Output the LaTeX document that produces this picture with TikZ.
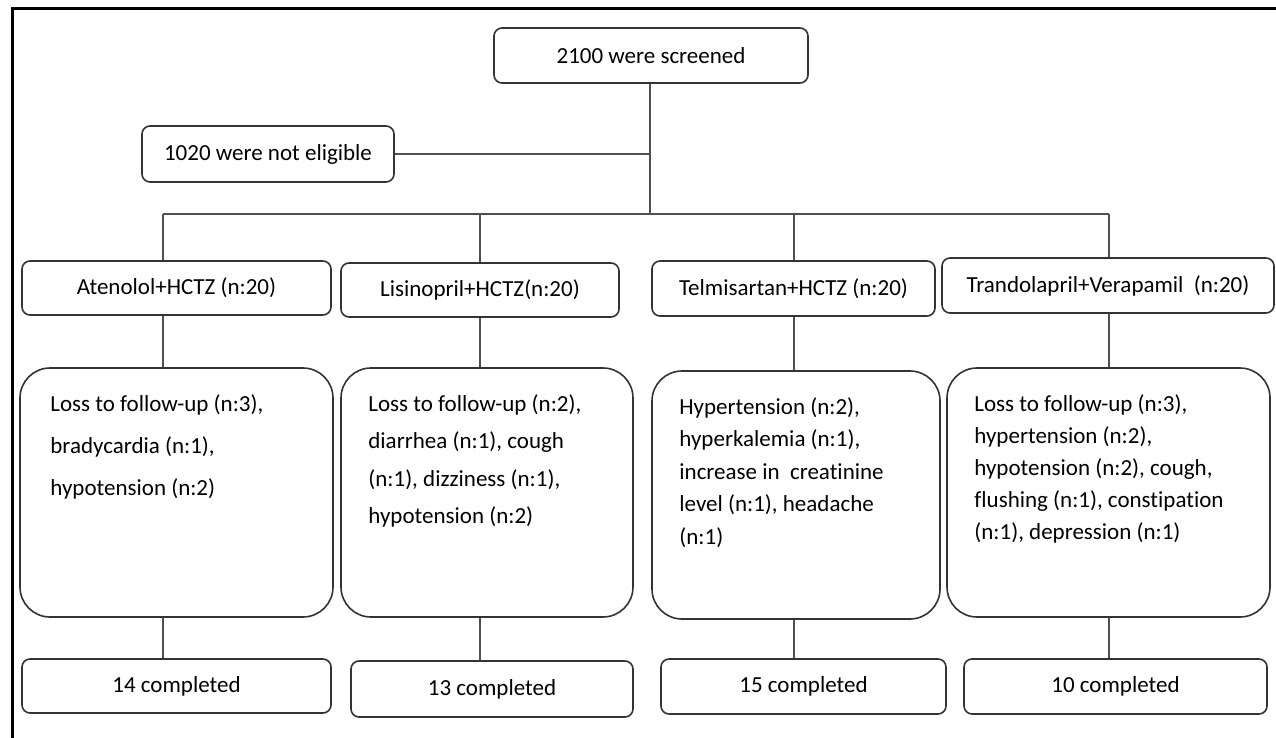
\documentclass[tikz,border=0pt]{standalone}
\usepackage{fontspec}
\setmainfont{Carlito}[Ligatures=NoCommon]
\usepackage{xcolor}
\definecolor{boxgray}{HTML}{333333}
\definecolor{linegray}{HTML}{505050}

\tikzset{
  box/.style={draw=boxgray, line width=1.6pt, rounded corners=8pt, inner sep=0pt,
    font=\fontsize{23}{28}\selectfont},
  bigbox/.style={draw=boxgray, line width=1.6pt, rounded corners=30pt, inner sep=0pt,
    minimum height=249pt},
  aetext/.style={anchor=north west, align=left, inner sep=0pt},
  link/.style={linegray, line width=1.4pt}
}

\begin{document}
\begin{tikzpicture}[x=1pt,y=-1pt]
\useasboundingbox (0,0) rectangle (1276,738);
%%%FRAME
\draw[line width=3pt] (12,738) -- (12,9) -- (1276,9);

%%%SCREENING
\node[box, minimum width=314pt, minimum height=55pt] (screen) at (651,55.5) {2100 were screened};
\node[box, minimum width=252pt, minimum height=56pt] (noelig) at (268,154) {1020 were not eligible};

%%%ARMS
\node[box, minimum width=309pt, minimum height=54pt] (atn) at (176.5,288) {Atenolol+HCTZ (n:20)};
\node[box, minimum width=278pt, minimum height=54pt] (lis) at (480,290) {Lisinopril+HCTZ(n:20)};
\node[box, minimum width=283pt, minimum height=55pt] (tel) at (793.5,288.5) {Telmisartan+HCTZ (n:20)};
\node[box, minimum width=332pt, minimum height=55pt] (trd) at (1108,285.5) {Trandolapril+Verapamil\ \ (n:20)};

%%%EVENTS
\node[bigbox, minimum width=313pt] (aeatn) at (176.5,492.5) {};
\node[bigbox, minimum width=292pt] (aelis) at (487,492.5) {};
\node[bigbox, minimum width=288pt, minimum height=248pt] (aetel) at (796,495) {};
\node[bigbox, minimum width=323pt] (aetrd) at (1108.5,492.5) {};

\node[aetext, font=\fontsize{23}{42}\selectfont, xshift=31pt, yshift=-27pt] (atntxt) at (aeatn.north west)
  {Loss to follow-up (n:3),\\ bradycardia (n:1),\\ hypotension (n:2)};
\node[aetext, font=\fontsize{23}{37.5}\selectfont, xshift=28pt, yshift=-27pt] (listxt) at (aelis.north west)
  {Loss to follow-up (n:2),\\ diarrhea (n:1), cough\\ (n:1), dizziness (n:1),\\ hypotension (n:2)};
\node[aetext, font=\fontsize{23}{32.5}\selectfont, xshift=28pt, yshift=-27pt] (teltxt) at (aetel.north west)
  {Hypertension (n:2),\\ hyperkalemia (n:1),\\ increase in\ \ creatinine\\ level (n:1), headache\\ (n:1)};
\node[aetext, font=\fontsize{23}{32}\selectfont, xshift=28pt, yshift=-27pt] (trdtxt) at (aetrd.north west)
  {Loss to follow-up (n:3),\\ hypertension (n:2),\\ hypotension (n:2), cough,\\ flushing (n:1), constipation\\ (n:1), depression (n:1)};

%%%COMPLETED
\node[box, minimum width=309pt, minimum height=54pt] (catn) at (176.5,686) {14 completed};
\node[box, minimum width=282pt, minimum height=56pt] (clis) at (492,689) {13 completed};
\node[box, minimum width=285pt, minimum height=55pt] (ctel) at (803.5,686.5) {15 completed};
\node[box, minimum width=303pt, minimum height=55pt] (ctrd) at (1115.5,686.5) {10 completed};

%%%CONNECTORS
\coordinate (trunk) at (650,214);
\coordinate (d1) at (163,214);
\coordinate (d2) at (480,214);
\coordinate (d3) at (794,214);
\coordinate (d4) at (1109,214);
\draw[link] (screen.south -| trunk) -- (trunk);
\draw[link] (noelig.east) -- (noelig.east -| trunk);
\draw[link] (d1) -- (d4);
\foreach \i/\arm/\ae/\done in {1/atn/aeatn/catn, 2/lis/aelis/clis, 3/tel/aetel/ctel, 4/trd/aetrd/ctrd}{
  \draw[link] (d\i) -- (\arm.north -| d\i);
  \draw[link] (\arm.south -| d\i) -- (\ae.north -| d\i);
  \draw[link] (\ae.south -| d\i) -- (\done.north -| d\i);
}
\end{tikzpicture}
\end{document}
